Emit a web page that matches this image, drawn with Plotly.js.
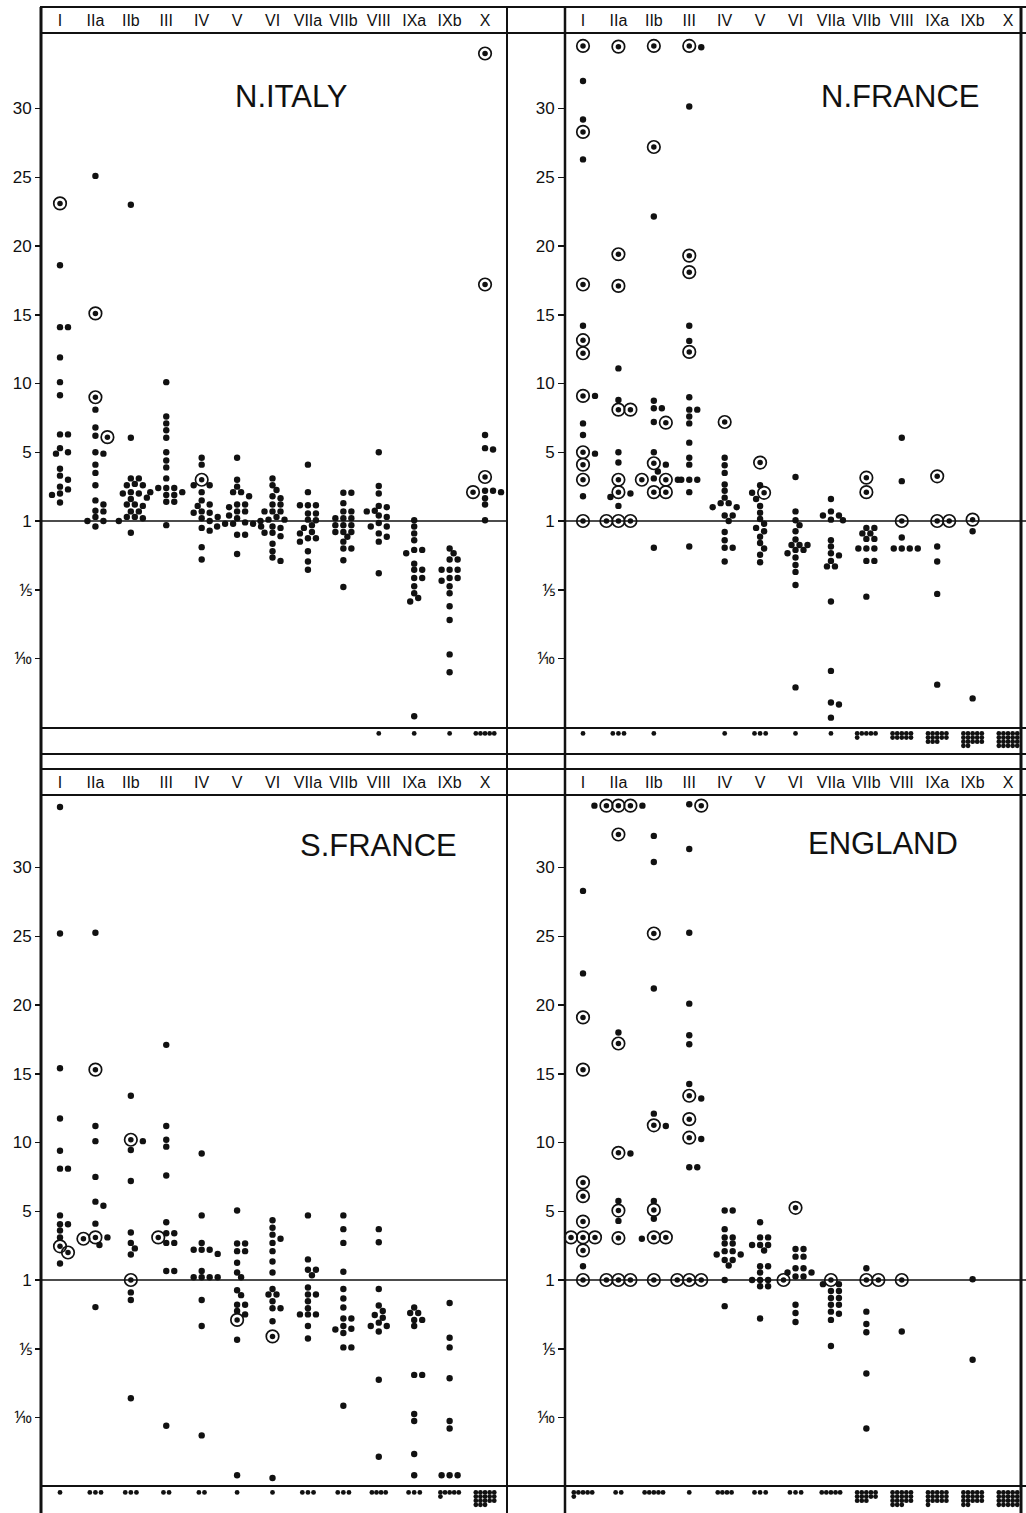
<!DOCTYPE html>
<html><head><meta charset="utf-8">
<script src="https://cdn.plot.ly/plotly-3.0.1.min.js"></script>
<style>body{margin:0;background:#fff}#chart{width:1026px;height:1513px}</style>
</head><body><div id="chart"></div>
<script>
const categories = ["I","IIa","IIb","III","IV","V","VI","VIIa","VIIb","VIII","IXa","IXb","X"];
// y axis: value 0 = ratio 1, +n = ratio n, -n = ratio 1/n
const yTickVals = [30,25,20,15,10,5,0,-5,-10];
const yTickText = ["30","25","20","15","10","5","1","⅕","⅒"];
const regionNames = ["N.ITALY","N.FRANCE","S.FRANCE","ENGLAND"];

// ---------- N. ITALY ----------
const italyDots = [
 [18.6,14.1,14.1,11.9,10.1,9.15,6.3,6.3,5.3,5.0,4.9,3.8,3.3,3.0,2.5,2.3,2.0,1.9,1.35],
 [25.1,8.1,6.8,6.2,5.0,4.9,4.1,3.5,2.6,1.5,1.2,0.75,0.7,0.3,0,0,-0.4],
 [23.0,6.05,3.1,3.1,2.7,2.6,2.6,2.1,2.0,2.0,1.7,1.6,1.2,1.2,1.1,0.7,0.7,0.3,0.3,0.2,0.0,-0.85],
 [10.1,7.6,7.1,6.6,6.05,5.0,4.4,3.9,3.1,2.4,2.4,2.4,2.1,2.1,1.9,1.9,1.4,1.4,-0.3],
 [4.6,4.1,2.6,2.6,2.1,1.5,1.2,1.1,0.7,0.6,0.6,0.3,0.2,0.0,-0.5,-0.7,-1.9,-2.8],
 [4.6,3.0,2.5,2.1,2.1,1.8,1.2,1.2,1.0,0.7,0.7,0.4,0.2,-0.1,-0.2,-0.2,-0.2,-0.4,-0.4,-1.0,-1.0,-2.4],
 [3.1,2.6,2.25,1.8,1.65,1.2,1.2,0.7,0.7,0.7,0.3,0.1,0.1,0.0,-0.4,-0.5,-0.85,-0.85,-1.1,-1.65,-2.2,-2.65,-2.9],
 [4.1,2.1,1.15,1.15,1.15,0.55,0.55,0.1,0.05,-0.3,-0.5,-0.8,-0.9,-1.25,-1.25,-1.5,-2.2,-2.95,-3.55],
 [2.05,2.05,1.3,0.7,0.7,0.2,0.2,0.2,-0.3,-0.3,-0.3,-0.8,-0.8,-0.8,-1.15,-1.5,-2.0,-2.0,-2.85,-4.8],
 [5.0,2.55,2.0,1.1,1.0,0.75,0.7,0.4,0.3,-0.15,-0.4,-0.4,-0.9,-1.15,-1.5,-3.8],
 [0.05,-0.4,-0.9,-1.4,-2.1,-2.1,-2.35,-3.1,-3.55,-3.55,-4.15,-4.15,-4.75,-5.25,-5.6,-5.85,-14.2],
 [-2.0,-2.35,-2.8,-2.8,-3.55,-3.55,-3.55,-4.15,-4.15,-4.35,-4.75,-5.25,-6.2,-7.2,-9.7,-11.0],
 [6.25,5.3,5.2,2.2,2.2,2.1,2.0,1.65,1.2,0.05]
];
const italyRings = [[23.1],[15.1,9.0,6.1],[],[],[3.0],[],[],[],[],[],[],[],[34.0,17.2,3.2,2.1]];
const italyZeros = [0,0,0,0,0,0,0,0,0,1,1,1,5];

// ---------- N. FRANCE ----------
const nFranceDots = [
 [32.0,29.2,26.3,14.2,9.1,7.1,6.25,4.9,1.8],
 [11.1,8.8,5.0,4.25,2.0,1.75,1.1],
 [22.15,8.75,8.2,8.2,7.2,5.0,4.1,3.6,3.1,3.0,-1.95],
 [34.45,30.15,14.2,13.1,9.0,8.1,8.1,7.6,7.1,5.7,4.6,4.1,3.0,3.0,3.0,2.1,-1.85],
 [4.6,4.05,3.5,2.65,2.2,1.7,1.3,1.3,1.0,1.0,0.4,0.4,0.0,-0.8,-1.4,-1.95,-1.95,-2.95],
 [2.6,2.05,1.6,1.1,0.6,0.15,-0.2,-0.5,-0.75,-1.15,-1.6,-2.0,-2.45,-3.0],
 [3.2,0.7,0.05,-0.3,-0.75,-1.35,-1.75,-1.75,-1.75,-2.1,-2.1,-2.35,-2.65,-3.2,-3.7,-4.65,-12.1],
 [1.6,0.7,0.4,0.4,0.1,0.05,-1.4,-1.85,-2.35,-2.5,-2.9,-3.3,-3.3,-5.85,-10.9,-13.2,-13.35,-14.3],
 [-0.5,-0.5,-0.9,-0.9,-1.3,-1.3,-2.0,-2.0,-2.0,-2.9,-2.9,-5.5],
 [6.05,2.9,-1.2,-2.0,-2.0,-2.0,-2.0],
 [-1.85,-2.95,-5.3,-11.9],
 [-0.75,-12.9],
 []
];
const nFranceRings = [
 [34.55,28.3,17.2,13.15,12.2,9.1,5.0,4.1,3.0,0],
 [34.5,19.4,17.1,8.1,8.1,3.0,2.1,0,0,0],
 [34.55,27.2,7.15,4.2,3.0,3.0,2.1,2.1],
 [34.55,19.3,18.1,12.3],
 [7.2],[4.25,2.05],[],[],[3.15,2.1],[0],[3.25,0,0],[0.1],[]
];
const nFranceZeros = [1,3,1,0,1,3,1,1,6,10,13,17,20];

// ---------- S. FRANCE ----------
const sFranceDots = [
 [34.4,25.2,15.4,11.75,9.4,8.1,8.1,4.7,4.05,4.05,3.6,3.1,1.2],
 [25.25,11.2,10.1,7.5,5.7,5.4,4.1,3.1,2.55,-1.97],
 [13.4,10.1,9.45,7.2,3.45,2.7,2.3,1.85,-0.9,-1.45,-8.6],
 [17.1,11.2,10.2,9.7,7.6,4.2,3.4,3.4,2.7,2.7,0.65,0.65,-10.6],
 [9.2,4.7,2.7,2.2,2.2,2.2,1.9,0.65,0.2,0.2,0.2,0.2,-1.45,-3.35,-11.3],
 [5.05,2.65,2.65,2.1,2.1,1.25,0.55,0.2,-0.75,-1.1,-1.8,-1.8,-2.25,-2.5,-4.35,-14.2],
 [4.35,3.8,3.3,3.0,2.7,2.1,1.35,0.55,-0.65,-1.05,-1.05,-1.55,-2.05,-2.05,-3.0,-14.4],
 [4.7,1.5,0.75,0.75,0.35,-0.55,-1.05,-1.05,-1.55,-2.05,-2.5,-2.5,-2.5,-3.35,-4.25],
 [4.7,3.7,2.7,0.6,-0.65,-1.35,-2.0,-2.8,-2.8,-3.35,-3.55,-3.6,-3.85,-4.9,-4.9,-9.15],
 [3.7,2.75,-0.65,-1.85,-2.25,-2.55,-2.75,-3.1,-3.35,-3.35,-3.75,-7.25,-12.85],
 [-2.0,-2.4,-2.4,-2.9,-2.9,-3.35,-6.9,-6.9,-9.75,-10.25,-12.65,-14.2],
 [-1.67,-4.2,-4.9,-7.15,-10.25,-10.8,-14.2,-14.2,-14.2],
 []
];
const sFranceRings = [[2.45,2.0],[15.3,3.1,3.0],[10.2,0],[3.1],[],[-2.9],[-4.1],[],[],[],[],[],[]];
const sFranceZeros = [1,3,3,2,2,1,1,3,3,4,3,6,18];

// ---------- ENGLAND ----------
const englandDots = [
 [28.3,22.3,1.0],
 [34.5,34.5,18.0,9.2,5.75,4.3],
 [32.3,30.4,21.2,12.1,11.2,5.75,4.45,3.0],
 [34.6,31.35,25.25,20.1,17.8,17.15,14.25,13.2,10.25,8.2,8.2],
 [5.05,5.05,3.7,3.1,3.1,2.65,2.65,2.1,2.1,1.85,1.85,1.45,1.45,1.05,0.0,-1.9],
 [4.2,3.1,3.1,2.55,2.55,2.55,2.15,1.0,1.0,0.55,0.0,0.0,0.0,-0.45,-0.45,-2.8],
 [2.25,2.25,1.7,1.7,0.85,0.85,0.55,0.55,0.25,0.25,-1.8,-2.4,-3.05],
 [-0.3,-0.3,-0.8,-0.8,-1.3,-1.3,-1.8,-1.8,-2.3,-2.45,-2.9,-4.8],
 [0.85,-2.3,-3.2,-3.8,-6.8,-10.8],
 [-3.75],
 [],
 [0.05,-5.8],
 []
];
const englandRings = [
 [19.1,15.3,7.1,6.1,4.25,3.1,3.1,3.1,2.15,0],
 [34.5,34.5,34.5,32.4,17.2,9.25,5.05,3.05,0,0,0],
 [25.2,11.25,5.1,3.1,3.1,0],
 [34.5,13.4,11.7,10.35,0,0,0],
 [],[],[5.25,0],[0],[0,0],[0],[],[],[]
];
const englandZeros = [6,2,5,1,4,3,3,5,13,18,16,17,20];

// ---------- layout helpers ----------
const W = 1026, H = 1513;
const px = x => x / W;
const py = y => 1 - y / H;
const PXCAT = 35.42, PXUNIT = 13.75;

const panels = [
  {name: regionNames[0], dots: italyDots,   rings: italyRings,   zeros: italyZeros,   col: 0, row: 0},
  {name: regionNames[1], dots: nFranceDots, rings: nFranceRings, zeros: nFranceZeros, col: 1, row: 0},
  {name: regionNames[2], dots: sFranceDots, rings: sFranceRings, zeros: sFranceZeros, col: 0, row: 1},
  {name: regionNames[3], dots: englandDots, rings: englandRings, zeros: englandZeros, col: 1, row: 1}
];
const colGeom = [
  {x0: 42, x1: 507, first: 60},
  {x0: 565, x1: 1022, first: 583}
];
const rowGeom = [
  {top: 33, bottom: 754, one: 521},
  {top: 795, bottom: 1513, one: 1280}
];
const titlePos = [[291, 97], [900, 97], [378, 845], [883, 843]];

function swarm(dots, rings) {
  const pts = rings.map(v => ({v, ring: true})).concat(dots.map(v => ({v, ring: false})));
  pts.sort((a, b) => (b.v - a.v) || (b.ring - a.ring));
  const placed = [];
  const step = 4;
  for (const p of pts) {
    for (let k = 0; k < 24; k++) {
      const off = k === 0 ? 0 : (k % 2 === 1 ? 1 : -1) * Math.ceil(k / 2) * step;
      const ok = placed.every(q => {
        const dx = off - q.off, dy = (p.v - q.v) * PXUNIT;
        const md = (p.ring || q.ring) ? 8.5 : 6;
        return dx * dx + dy * dy >= md * md;
      });
      if (ok) { p.off = off; placed.push(p); break; }
    }
  }
  return placed;
}

const traces = [];
const layout = {
  width: W, height: H, margin: {l: 0, r: 0, t: 0, b: 0},
  paper_bgcolor: "#fff", plot_bgcolor: "#fff", showlegend: false,
  font: {family: "Liberation Sans, Arial, sans-serif", color: "#111"},
  shapes: [], annotations: []
};
const lineStyle = w => ({color: "#111", width: w});

panels.forEach((p, i) => {
  const n = i + 1;
  const xa = "xaxis" + (n === 1 ? "" : n), ya = "yaxis" + (n === 1 ? "" : n);
  const xr = "x" + (n === 1 ? "" : n), yr = "y" + (n === 1 ? "" : n);
  const cg = colGeom[p.col], rg = rowGeom[p.row];
  const xmin = (cg.x0 - cg.first) / PXCAT, xmax = (cg.x1 - cg.first) / PXCAT;
  const ymax = (rg.one - rg.top) / PXUNIT, ymin = (rg.one - rg.bottom) / PXUNIT;
  layout[xa] = {
    domain: [px(cg.x0), px(cg.x1)], range: [xmin, xmax], anchor: yr, side: "top",
    tickmode: "array", tickvals: categories.map((c, k) => k), ticktext: categories,
    ticks: "", showgrid: false, zeroline: false, showline: false, fixedrange: true,
    tickfont: {size: 16, family: "Liberation Sans, Arial, sans-serif", color: "#111"},
    ticklabelstandoff: 3
  };
  layout[ya] = {
    domain: [py(rg.bottom), py(rg.top)], range: [ymin, ymax], anchor: xr,
    tickmode: "array", tickvals: yTickVals, ticktext: yTickText,
    ticks: "outside", ticklen: 6, tickwidth: 1.5, tickcolor: "#111",
    showgrid: false, zeroline: false, showline: false, fixedrange: true,
    tickfont: {size: 17, family: "Liberation Sans, Arial, sans-serif", color: "#111"}
  };
  // 1-line
  layout.shapes.push({type: "line", xref: "paper", yref: yr, x0: px(cg.x0), x1: px(p.col ? 1026 : cg.x1), y0: 0, y1: 0, line: lineStyle(1.5)});

  const dx = [], dy = [], rx = [], ry = [];
  p.dots.forEach((vals, k) => {
    const pl = swarm(vals, p.rings[k]);
    pl.forEach(q => {
      const x = k + q.off / PXCAT;
      if (q.ring) { rx.push(x); ry.push(q.v); } else { dx.push(x); dy.push(q.v); }
    });
  });
  // zero / infinite strip
  const zx = [], zy = [];
  p.zeros.forEach((cnt, k) => {
    const w = Math.min(cnt, 5), sp = cnt > 3 ? 4.6 : 5.6;
    for (let j = 0; j < cnt; j++) {
      const r = Math.floor(j / 5), c = j % 5;
      zx.push(k + (c - (w - 1) / 2) * sp / PXCAT);
      zy.push(-15.45 - r * 0.3);
    }
  });
  const common = {type: "scatter", mode: "markers", xaxis: xr, yaxis: yr, hoverinfo: "skip", cliponaxis: false};
  traces.push(Object.assign({}, common, {x: dx, y: dy, marker: {symbol: "circle", size: 6.4, color: "#111"}}));
  traces.push(Object.assign({}, common, {x: rx, y: ry, marker: {symbol: "circle-open", size: 12.5, color: "#111", line: {width: 1.7, color: "#111"}}}));
  traces.push(Object.assign({}, common, {x: rx, y: ry, marker: {symbol: "circle", size: 5.5, color: "#111"}}));
  traces.push(Object.assign({}, common, {x: zx, y: zy, marker: {symbol: "circle", size: 4.8, color: "#111"}}));

  layout.annotations.push({
    xref: "paper", yref: "paper", x: px(titlePos[i][0]), y: py(titlePos[i][1]),
    xanchor: "center", yanchor: "middle", showarrow: false, text: p.name,
    font: {size: 31, family: "Liberation Sans, Arial, sans-serif", color: "#111"}
  });
});

// frame lines
[7, 33, 728, 754, 769, 795, 1486].forEach(y => {
  layout.shapes.push({type: "line", xref: "paper", yref: "paper", x0: px(40), x1: px(1026), y0: py(y), y1: py(y), line: lineStyle(1.8)});
});
[[41, 3], [507, 2], [565, 2.5], [1021, 3]].forEach(([x, w]) => {
  layout.shapes.push({type: "line", xref: "paper", yref: "paper", x0: px(x), x1: px(x), y0: py(7), y1: py(1513), line: lineStyle(w)});
});

Plotly.newPlot("chart", traces, layout, {staticPlot: true, displayModeBar: false});
</script></body></html>
